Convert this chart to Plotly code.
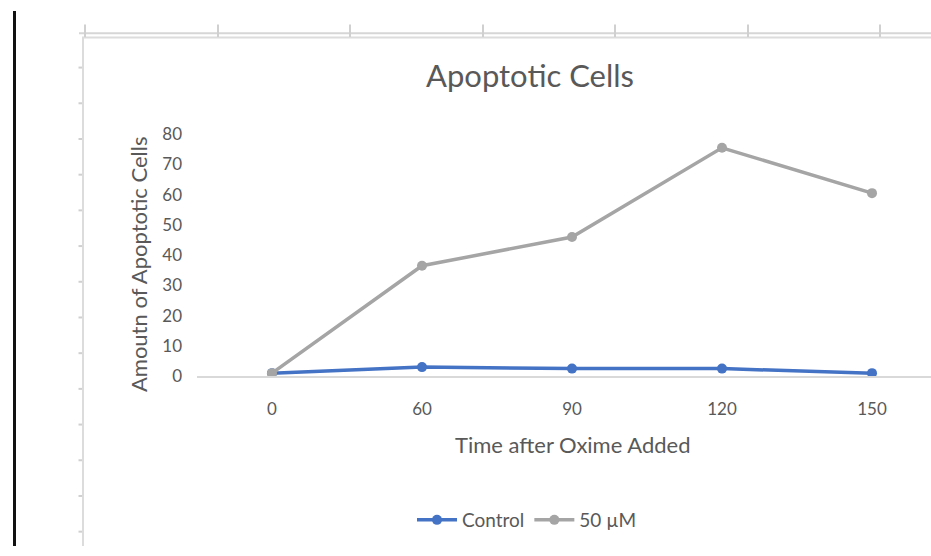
import plotly.graph_objects as go

times = ["0", "60", "90", "120", "150"]
control = [1, 3, 2.5, 2.5, 1]
dose_50 = [1, 36.5, 46, 75.5, 60.5]
series_names = ["Control", "50 µM"]
y_ticks = [0, 10, 20, 30, 40, 50, 60, 70, 80]

W, H = 931, 556
FONT = "Lato"
TXT = "#595959"

def px(x):
    return x / W

def py(y):
    return 1 - y / H

fig = go.Figure()
fig.add_trace(go.Scatter(x=times, y=control, name=series_names[0], mode="lines+markers",
                         line=dict(color="#4472c4", width=3.5),
                         marker=dict(color="#4472c4", size=10)))
fig.add_trace(go.Scatter(x=times, y=dose_50, name=series_names[1], mode="lines+markers",
                         line=dict(color="#a5a5a5", width=3.5),
                         marker=dict(color="#a5a5a5", size=10)))

shapes = []
# spreadsheet background elements
shapes.append(dict(type="line", xref="paper", yref="paper", x0=px(14.5), x1=px(14.5), y0=0, y1=1,
                   line=dict(color="#111111", width=3)))
shapes.append(dict(type="line", xref="paper", yref="paper", x0=px(79), x1=1, y0=py(23), y1=py(23),
                   line=dict(color="#d6d6d6", width=2)))
shapes.append(dict(type="line", xref="paper", yref="paper", x0=px(82), x1=1, y0=py(27.5), y1=py(27.5),
                   line=dict(color="#dcdcdc", width=2)))
shapes.append(dict(type="line", xref="paper", yref="paper", x0=px(83), x1=px(83), y0=py(27), y1=0,
                   line=dict(color="#dcdcdc", width=2)))
for xt in [85, 218, 350, 483, 615, 748, 880]:
    shapes.append(dict(type="line", xref="paper", yref="paper", x0=px(xt), x1=px(xt), y0=py(14), y1=py(27),
                       line=dict(color="#d0d0d0", width=2)))
for k in range(-2, 12):
    yt = 133 + 37.1 * k
    shapes.append(dict(type="line", xref="paper", yref="paper", x0=px(78.5), x1=px(82), y0=py(yt), y1=py(yt),
                       line=dict(color="#d0d0d0", width=2)))

annotations = [
    dict(text="Apoptotic Cells", x=px(530), y=py(66), xref="paper", yref="paper", showarrow=False,
         font=dict(family=FONT, size=31, color=TXT), xanchor="center", yanchor="middle"),
    dict(text="Amoutn of Apoptotic Cells", x=px(138), y=py(263), xref="paper", yref="paper", showarrow=False,
         textangle=-90, font=dict(family=FONT, size=22, color=TXT), xanchor="center", yanchor="middle"),
    dict(text="Time after Oxime Added", x=px(572), y=py(451), xref="paper", yref="paper", showarrow=False,
         font=dict(family=FONT, size=22, color=TXT), xanchor="center", yanchor="middle"),
]

fig.update_layout(
    width=W, height=H,
    margin=dict(l=0, r=0, t=0, b=0),
    paper_bgcolor="white", plot_bgcolor="white",
    font=dict(family=FONT, color=TXT, size=17),
    shapes=shapes,
    annotations=annotations,
    legend=dict(orientation="h", x=px(527), y=py(529), xanchor="center", yanchor="middle",
                font=dict(family=FONT, size=19, color=TXT), bgcolor="rgba(0,0,0,0)",
                itemwidth=40, tracegroupgap=0),
    xaxis=dict(type="category", domain=[px(197), 1], range=[-0.5, 4.5 - 16 / 150],
               showgrid=False, zeroline=False, showline=True, linecolor="#d9d9d9", linewidth=1.5,
               ticks="", ticklabelstandoff=17, tickfont=dict(family=FONT, size=17, color=TXT)),
    yaxis=dict(domain=[py(379.5), py(128)], range=[0, 80], tickvals=y_ticks,
               showgrid=False, zeroline=False, showline=False, ticks="",
               ticklabelstandoff=14, tickfont=dict(family=FONT, size=17, color=TXT)),
)

fig.write_html("out.html")
